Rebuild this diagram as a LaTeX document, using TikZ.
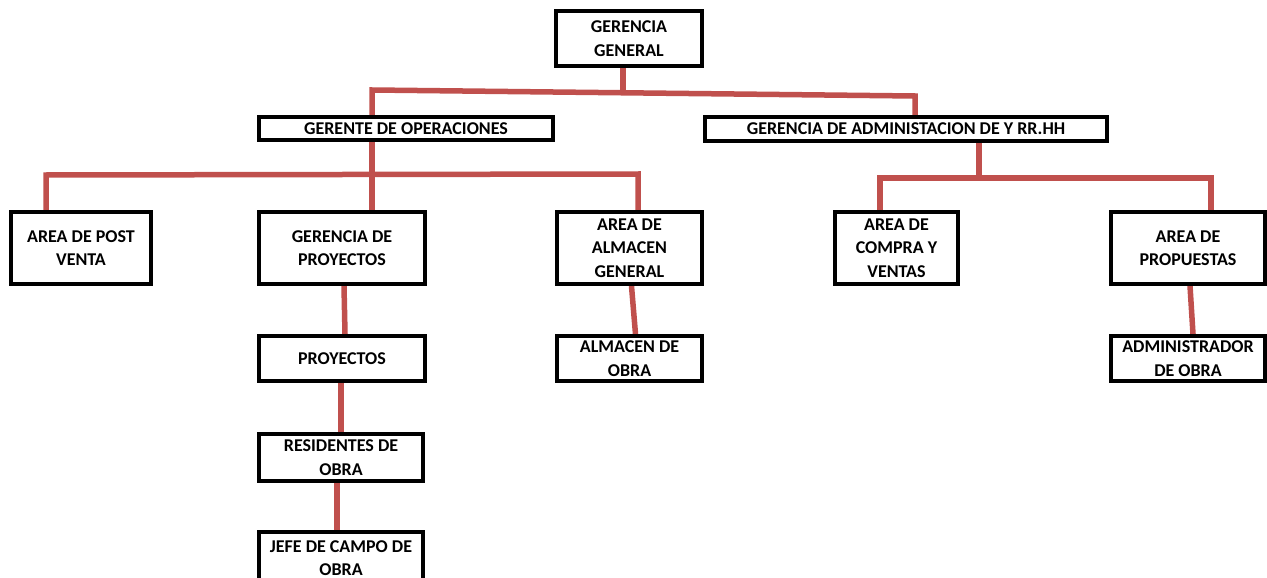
\documentclass[tikz,border=0pt]{standalone}
\usepackage{fontspec}
\setmainfont{Carlito}
\usetikzlibrary{backgrounds}
\definecolor{linkred}{HTML}{C0504D}
\tikzset{
  box/.style={draw=black, line width=4pt, fill=white, align=center, inner sep=0pt,
    font=\fontsize{18}{23.5}\selectfont\bfseries},
  link/.style={draw=linkred, line width=5.5pt}
}
\begin{document}
\begin{tikzpicture}[x=1pt,y=-1pt]
\useasboundingbox (0,0) rectangle (1267,578);
\node[box, minimum width=146, minimum height=55] (gg) at (629,38.5) {GERENCIA\\GENERAL};
\node[box, minimum width=294, minimum height=23] (go) at (406,128.5) {GERENTE DE OPERACIONES};
\node[box, minimum width=402, minimum height=24] (ga) at (906,129) {GERENCIA DE ADMINISTACION DE Y RR.HH};
\node[box, minimum width=140, minimum height=72] (pv) at (81,248) {AREA DE POST\\VENTA};
\node[box, minimum width=166, minimum height=72] (gp) at (342,248) {GERENCIA DE\\PROYECTOS};
\node[box, minimum width=145, minimum height=72] (ag) at (629.5,248) {AREA DE\\ALMACEN\\GENERAL};
\node[box, minimum width=123, minimum height=72] (cv) at (896.5,248) {AREA DE\\COMPRA Y\\VENTAS};
\node[box, minimum width=154, minimum height=72] (pr) at (1188,248) {AREA DE\\PROPUESTAS};
\node[box, minimum width=166, minimum height=45] (py) at (342,358.5) {PROYECTOS};
\node[box, minimum width=145, minimum height=45] (ao) at (629.5,358.5) {ALMACEN DE\\OBRA};
\node[box, minimum width=154, minimum height=45] (ad) at (1188,358.5) {ADMINISTRADOR\\DE OBRA};
\node[box, minimum width=164, minimum height=47] (ro) at (341,457.5) {RESIDENTES DE\\OBRA};
\node[box, minimum width=164, minimum height=52] (jc) at (341,558) {JEFE DE CAMPO DE\\OBRA};
\coordinate (t) at (623,90);
\coordinate (tl) at (372,90);
\coordinate (tr) at (915,96);
\coordinate (m) at (372,175);
\coordinate (ml) at (46,175);
\coordinate (mr) at (638,174);
\coordinate (r) at (979,178);
\coordinate (rl) at (880,178);
\coordinate (rr) at (1211,178);
\begin{pgfonlayer}{background}
\draw[link] (gg.south -| t) -- (t);
\draw[link] (tl |- go.north) -- (tl) -- (tr) -- (tr |- ga.north);
\draw[link] (m |- go.south) -- (m |- gp.north);
\draw[link] (ml |- pv.north) -- (ml) -- (mr) -- (mr |- ag.north);
\draw[link] (r |- ga.south) -- (r);
\draw[link] (rl |- cv.north) -- (rl) -- (rr) -- (rr |- pr.north);
\draw[link] ([xshift=2pt]gp.south) -- ([xshift=3pt]py.north);
\draw[link] ([xshift=-1pt]py.south) -- ([xshift=0pt]ro.north);
\draw[link] ([xshift=-4pt]ro.south) -- ([xshift=-4pt]jc.north);
\draw[link] ([xshift=2pt]ag.south) -- ([xshift=6pt]ao.north);
\draw[link] ([xshift=2pt]pr.south) -- ([xshift=5pt]ad.north);
\end{pgfonlayer}
\end{tikzpicture}
\end{document}
